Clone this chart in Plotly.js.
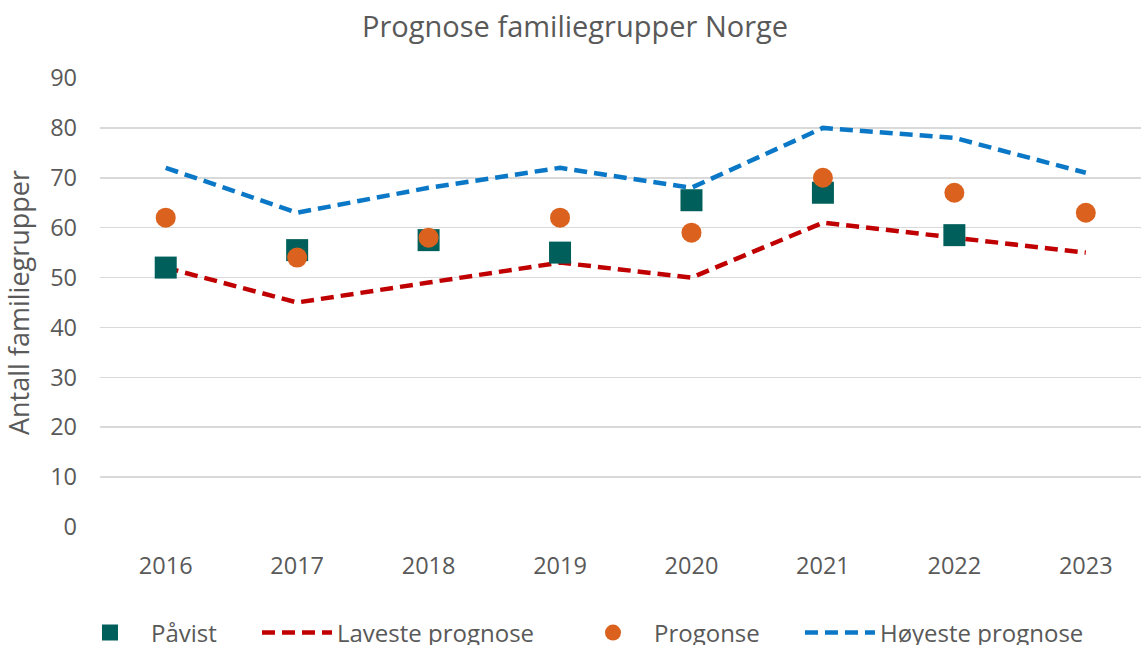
<!DOCTYPE html>
<html>
<head>
<meta charset="utf-8">
<script src="https://cdn.plot.ly/plotly-3.0.1.min.js"></script>
<style>html,body{margin:0;padding:0;background:#fff;}#chart{width:1141px;height:645px;}</style>
</head>
<body>
<div id="chart"></div>
<script>
const years = ['2016','2017','2018','2019','2020','2021','2022','2023'];
const pavist = [52, 55.5, 57.5, 55, 65.5, 67, 58.5, null];
const progonse = [62, 54, 58, 62, 59, 70, 67, 63];
const laveste = [52, 45, 49, 53, 50, 61, 58, 55];
const hoyeste = [72, 63, 68, 72, 68, 80, 78, 71];

const font = 'Open Sans, Noto Sans, sans-serif';
const grey = '#595959';

const traces = [
  {x: years, y: laveste, name: 'Laveste prognose', type: 'scatter', mode: 'lines',
   line: {color: '#C00000', width: 4.5, dash: '13px,7px'}, legend: 'legend2'},
  {x: years, y: hoyeste, name: 'Høyeste prognose', type: 'scatter', mode: 'lines',
   line: {color: '#0A78C6', width: 4.5, dash: '13px,7px'}, legend: 'legend4'},
  {x: years, y: pavist, name: 'Påvist', type: 'scatter', mode: 'markers',
   marker: {symbol: 'square', size: 22, color: '#005F5A'}, legend: 'legend'},
  {x: years, y: progonse, name: 'Progonse', type: 'scatter', mode: 'markers',
   marker: {symbol: 'circle', size: 20, color: '#DA621E'}, legend: 'legend3'}
];

const legBase = {orientation: 'h', yanchor: 'middle', y: -0.236, xanchor: 'left',
  bgcolor: 'rgba(0,0,0,0)', font: {family: font, size: 24, color: grey}};

const layout = {
  width: 1141, height: 645,
  margin: {l: 100, r: 0, t: 78, b: 118, autoexpand: false},
  paper_bgcolor: '#fff', plot_bgcolor: '#fff',
  title: {text: 'Prognose familiegrupper Norge', x: 0.504, xref: 'container', xanchor: 'center', y: 0.958, yanchor: 'middle',
    font: {family: font, size: 29, color: grey}},
  xaxis: {type: 'category', range: [-0.5, 7.42], showgrid: false, zeroline: false, showline: false,
    ticks: '', ticklabelstandoff: 22, tickfont: {family: font, size: 23.5, color: grey}, fixedrange: true},
  yaxis: {range: [0, 90], dtick: 10, tick0: 0, showgrid: true, gridcolor: '#D9D9D9', gridwidth: 1.5,
    zeroline: false, showline: false, ticks: '', ticklabelstandoff: 22,
    tickfont: {family: font, size: 23.5, color: grey},
    title: {text: 'Antall familiegrupper', standoff: 12, font: {family: font, size: 27, color: grey}}},
  showlegend: true,
  legend: Object.assign({}, legBase, {x: -0.0298, itemwidth: 72}),
  legend2: Object.assign({}, legBase, {x: 0.1508, itemwidth: 70}),
  legend3: Object.assign({}, legBase, {x: 0.4534, itemwidth: 72}),
  legend4: Object.assign({}, legBase, {x: 0.6724, itemwidth: 70})
};

Plotly.newPlot('chart', traces, layout, {displayModeBar: false, staticPlot: true});
</script>
</body>
</html>
